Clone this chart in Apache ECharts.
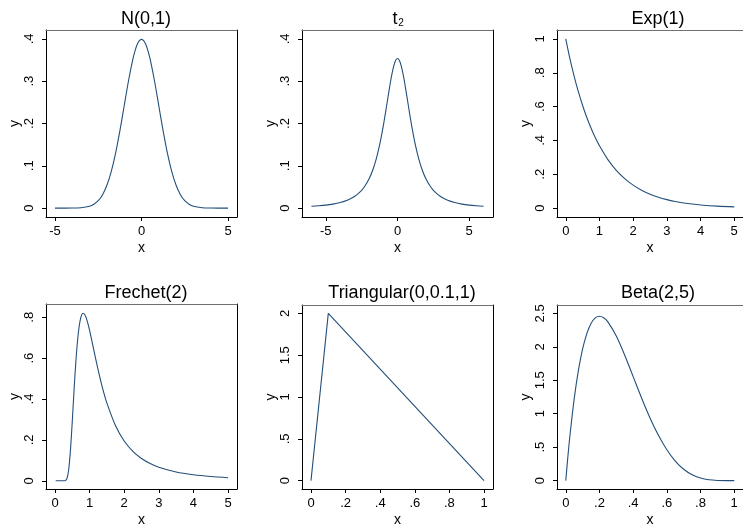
<!DOCTYPE html>
<html>
<head>
<meta charset="utf-8">
<script src="https://cdn.jsdelivr.net/npm/echarts@6/dist/echarts.min.js"></script>
<style>
html,body{margin:0;padding:0;background:#fff;}
#c{width:743px;height:528px;}
</style>
</head>
<body>
<div id="c"></div>
<script>
// ---- data ----
const normX = [-5,-4,-3.5,-3,-2.75,-2.5,-2.25,-2,-1.75,-1.5,-1.25,-1,-0.75,-0.5,-0.375,-0.25,-0.125,0,0.125,0.25,0.375,0.5,0.75,1,1.25,1.5,1.75,2,2.25,2.5,2.75,3,3.5,4,5];
const normY = [0,0.0001,0.0009,0.0044,0.0091,0.0175,0.0317,0.0540,0.0863,0.1295,0.1826,0.2420,0.3011,0.3521,0.3718,0.3867,0.3958,0.3989,0.3958,0.3867,0.3718,0.3521,0.3011,0.2420,0.1826,0.1295,0.0863,0.0540,0.0317,0.0175,0.0091,0.0044,0.0009,0.0001,0];

const tX = [-6,-5.5,-5,-4.5,-4,-3.5,-3,-2.5,-2.25,-2,-1.75,-1.5,-1.25,-1,-0.75,-0.5,-0.375,-0.25,-0.125,0,0.125,0.25,0.375,0.5,0.75,1,1.25,1.5,1.75,2,2.25,2.5,3,3.5,4,4.5,5,5.5,6];
const tY = [0.0043,0.0055,0.0071,0.0095,0.0131,0.0186,0.0274,0.0422,0.0533,0.0680,0.0878,0.1141,0.1487,0.1925,0.2438,0.2963,0.3193,0.3376,0.3495,0.3536,0.3495,0.3376,0.3193,0.2963,0.2438,0.1925,0.1487,0.1141,0.0878,0.0680,0.0533,0.0422,0.0274,0.0186,0.0131,0.0095,0.0071,0.0055,0.0043];

const expX = [0,0.1,0.2,0.3,0.4,0.5,0.6,0.7,0.8,0.9,1,1.25,1.5,1.75,2,2.25,2.5,2.75,3,3.25,3.5,3.75,4,4.5,5];
const expY = [1,0.9048,0.8187,0.7408,0.6703,0.6065,0.5488,0.4966,0.4493,0.4066,0.3679,0.2865,0.2231,0.1738,0.1353,0.1054,0.0821,0.0639,0.0498,0.0388,0.0302,0.0235,0.0183,0.0111,0.0067];

const frX = [0.02,0.2,0.25,0.3,0.35,0.4,0.45,0.5,0.55,0.6,0.65,0.7,0.75,0.8,0.85,0.9,0.95,1,1.1,1.2,1.3,1.4,1.5,1.75,2,2.25,2.5,2.75,3,3.5,4,4.5,5];
const frY = [0,0,0,0.0011,0.0133,0.0603,0.1574,0.2931,0.4408,0.5758,0.6829,0.7575,0.8011,0.8187,0.8161,0.7983,0.7703,0.7358,0.6575,0.5780,0.5038,0.4376,0.3800,0.2692,0.1947,0.1441,0.1091,0.0843,0.0663,0.0430,0.0294,0.0209,0.0154];

const triX = [0,0.1,1];
const triY = [0,2,0];

const betaX = [0,0.0125,0.025,0.05,0.075,0.1,0.125,0.15,0.175,0.2,0.225,0.25,0.3,0.35,0.4,0.45,0.5,0.55,0.6,0.65,0.7,0.75,0.8,0.85,0.9,0.95,1];
const betaY = [0,0.3566,0.6778,1.2218,1.6477,1.9683,2.1982,2.3490,2.4337,2.4576,2.4347,2.3730,2.1609,1.8745,1.5552,1.2352,0.9375,0.6767,0.4608,0.2927,0.1701,0.0879,0.0384,0.0129,0.0027,0.0002,0];

const titles = ['N(0,1)', 't', 'Exp(1)', 'Frechet(2)', 'Triangular(0,0.1,1)', 'Beta(2,5)'];
const xTicks = [[-5,0,5],[-5,0,5],[0,1,2,3,4,5],[0,1,2,3,4,5],[0,0.2,0.4,0.6,0.8,1],[0,0.2,0.4,0.6,0.8,1]];
const yTicks = [[0,0.1,0.2,0.3,0.4],[0,0.1,0.2,0.3,0.4],[0,0.2,0.4,0.6,0.8,1],[0,0.2,0.4,0.6,0.8],[0,0.5,1,1.5,2],[0,0.5,1,1.5,2,2.5]];
const seriesX = [normX, tX, expX, frX, triX, betaX];
const seriesY = [normY, tY, expY, frY, triY, betaY];

// ---- layout ----
const boxes = [
  {left:46, top:30, width:191, height:187},
  {left:302, top:30, width:191, height:187},
  {left:557, top:30, width:191, height:187},
  {left:46, top:304, width:191, height:188},
  {left:302, top:305, width:191, height:187},
  {left:557, top:305, width:191, height:187}
];
const titleCx = [141, 390, 653, 141, 397, 653];
const xRange = [[-5.52,5.52],[-6.66,6.66],[-0.26,5.26],[-0.26,5.26],[-0.052,1.052],[-0.052,1.052]];
const yRange = [[-0.021,0.421],[-0.021,0.421],[-0.053,1.053],[-0.04,0.865],[-0.1,2.1],[-0.125,2.625]];

const FONT = 'Liberation Sans, Arial, Helvetica, sans-serif';
const LINE = '#234f7a';
function fmt(v){
  let s = String(Math.round(v*1000)/1000);
  return s.replace(/^0\./,'.').replace(/^-0\./,'-.');
}

const grid=[], xAxis=[], yAxis=[], series=[], title=[];
boxes.forEach((b,i)=>{
  grid.push({left:b.left, top:b.top, width:b.width, height:b.height, show:false, containLabel:false});
  title.push({
    text: titles[i],
    left: titleCx[i], top: (i<3 ? 5 : 279), textAlign:'center',
    textStyle:{fontFamily:FONT, fontSize:18, fontWeight:'normal', color:'#000'}
  });
  xAxis.push({
    gridIndex:i, type:'value', position:'bottom', min:xRange[i][0], max:xRange[i][1],
    name:'x', nameLocation:'middle', nameGap:24,
    nameTextStyle:{fontFamily:FONT, fontSize:14, color:'#000'},
    axisLine:{show:true, onZero:false, lineStyle:{color:'#000', width:1}},
    axisTick:{show:true, length:4, customValues:xTicks[i], lineStyle:{color:'#000'}},
    axisLabel:{show:true, customValues:xTicks[i], margin:8, formatter:fmt, fontFamily:FONT, fontSize:13, color:'#000'},
    splitLine:{show:false}
  });
  xAxis.push({
    gridIndex:i, type:'value', position:'top', min:xRange[i][0], max:xRange[i][1],
    axisLine:{show:true, onZero:false, lineStyle:{color:'#707070', width:1}},
    axisTick:{show:false}, axisLabel:{show:false}, splitLine:{show:false}
  });
  yAxis.push({
    gridIndex:i, type:'value', position:'left', min:yRange[i][0], max:yRange[i][1],
    name:'y', nameLocation:'middle', nameGap:23, nameRotate:90,
    nameTextStyle:{fontFamily:FONT, fontSize:14, color:'#000'},
    axisLine:{show:true, onZero:false, lineStyle:{color:'#000', width:1}},
    axisTick:{show:true, length:4, customValues:yTicks[i], lineStyle:{color:'#000'}},
    axisLabel:{show:true, customValues:yTicks[i], rotate:90, margin:10, formatter:fmt, fontFamily:FONT, fontSize:13, color:'#000'},
    splitLine:{show:false}
  });
  yAxis.push({
    gridIndex:i, type:'value', position:'right', min:yRange[i][0], max:yRange[i][1],
    axisLine:{show:true, onZero:false, lineStyle:{color:'#000', width:1}},
    axisTick:{show:false}, axisLabel:{show:false}, splitLine:{show:false}
  });
  series.push({
    type:'line', xAxisIndex:2*i, yAxisIndex:2*i,
    data: seriesX[i].map((x,k)=>[x, seriesY[i][k]]),
    showSymbol:false, symbol:'none', smooth:(i===4 ? false : 0.3),
    lineStyle:{color:LINE, width:1.1}, animation:false, silent:true
  });
});
// subscript "2" of the t_2 title
title.push({
  text:'2', left:396, top:13, textAlign:'center',
  textStyle:{fontFamily:FONT, fontSize:10, fontWeight:'normal', color:'#000'}
});

const chart = echarts.init(document.getElementById('c'), null, {renderer:'canvas'});
chart.setOption({animation:false, backgroundColor:'#fff', title, grid, xAxis, yAxis, series});
</script>
</body>
</html>
